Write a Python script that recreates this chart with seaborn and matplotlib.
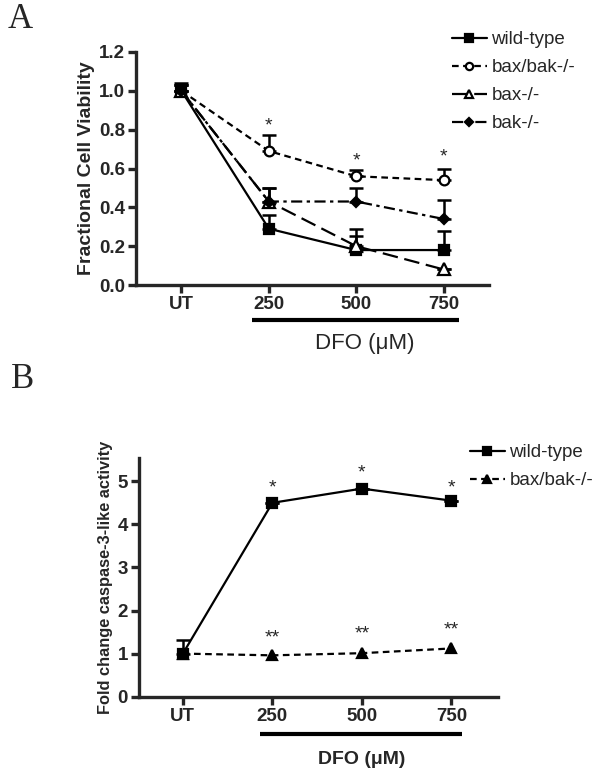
import numpy as np
import pandas as pd
import matplotlib
matplotlib.use("Agg")
import matplotlib.pyplot as plt
import matplotlib.transforms as mtransforms
import seaborn as sns

# ---------------- data ----------------
doses = ["UT", "250", "500", "750"]

# Panel A: fractional cell viability
wt_a = [1.00, 0.29, 0.18, 0.18]
wt_a_err = [0.04, 0.07, 0.07, 0.10]
baxbak_a = [1.00, 0.69, 0.56, 0.54]
baxbak_a_err = [0.03, 0.08, 0.03, 0.06]
bax_a = [1.00, 0.43, 0.20, 0.08]
bax_a_err = [0.03, 0.07, 0.09, 0.00]
bak_a = [1.00, 0.43, 0.43, 0.34]
bak_a_err = [0.03, 0.07, 0.07, 0.10]
stars_a = ["*", "*", "*"]            # at 250, 500, 750
stars_a_y = [0.82, 0.64, 0.66]

# Panel B: fold change caspase-3-like activity
wt_b = [1.00, 4.50, 4.83, 4.55]
wt_b_err = [0.31, 0.0, 0.0, 0.0]
baxbak_b = [1.00, 0.96, 1.01, 1.12]
stars_b_wt = ["*", "*", "*"]
stars_b_wt_y = [4.85, 5.2, 4.85]
stars_b_ko = ["**", "**", "**"]
stars_b_ko_y = [1.37, 1.45, 1.56]

# ---------------- style ----------------
sns.set_style("ticks")
plt.rcParams["font.family"] = ["Liberation Sans", "DejaVu Sans"]
plt.rcParams["axes.linewidth"] = 2.4
plt.rcParams["xtick.major.width"] = 2.4
plt.rcParams["ytick.major.width"] = 2.4
plt.rcParams["xtick.major.size"] = 6
plt.rcParams["ytick.major.size"] = 6

fig = plt.figure(figsize=(6.04, 7.78), dpi=100)
W, H = 604, 778


def axes_px(left, top, right, bottom):
    return fig.add_axes([left / W, 1 - bottom / H, (right - left) / W, (bottom - top) / H])


xpos = np.arange(len(doses))


def draw_series(ax, y, err, label, marker, ls, mfc, ms, lw=1.6):
    df = pd.DataFrame({"x": xpos, "y": y})
    if err is not None:
        ax.errorbar(xpos, y, yerr=[np.zeros(len(y)), err], fmt="none", ecolor="black",
                    elinewidth=1.8, capsize=5, capthick=1.8, zorder=2)
    sns.lineplot(data=df, x="x", y="y", ax=ax, color="black", linestyle=ls, linewidth=lw,
                 marker=marker, markersize=ms, markerfacecolor=mfc, markeredgecolor="black",
                 markeredgewidth=1.6, label=label, zorder=3)


def finish_axes(ax, xlim, ylim, yticks, yticklabels, ylabel, ylabel_size):
    ax.set_xlim(*xlim)
    ax.set_ylim(*ylim)
    ax.set_xticks(xpos)
    ax.set_xticklabels(doses, fontsize=13.5, fontweight="bold")
    ax.set_yticks(yticks)
    ax.set_yticklabels(yticklabels, fontsize=13.5, fontweight="bold")
    ax.set_xlabel("")
    ax.set_ylabel(ylabel, fontsize=ylabel_size, fontweight="bold", labelpad=3)
    sns.despine(ax=ax)
    ax.tick_params(axis="both", direction="out", pad=2)
    leg = ax.get_legend()
    if leg is not None:
        leg.remove()


# ---------------- Panel A ----------------
axA = axes_px(136, 52, 489, 285)
draw_series(axA, wt_a, wt_a_err, "wild-type", "s", "-", "black", 7)
draw_series(axA, baxbak_a, baxbak_a_err, "bax/bak-/-", "o", (0, (3, 2)), "white", 7)
draw_series(axA, bax_a, bax_a_err, "bax-/-", "^", (0, (7, 3)), "white", 8)
draw_series(axA, bak_a, bak_a_err, "bak-/-", "D", (0, (5, 2, 1.5, 2)), "black", 5)
finish_axes(axA, (-0.52, 3.52), (0, 1.2), np.arange(0, 1.21, 0.2),
            [f"{v:.1f}" for v in np.arange(0, 1.21, 0.2)], "Fractional Cell Viability", 14)
for xi, s, yy in zip(xpos[1:], stars_a, stars_a_y):
    axA.text(xi, yy, s, ha="center", va="center", fontsize=14)

handles, labels = axA.get_legend_handles_labels()
fig.legend(handles, labels, loc="upper left", bbox_to_anchor=(452 / W, 1 - 31 / H),
           frameon=False, fontsize=13.5, handlelength=1.85, handletextpad=0.25,
           labelspacing=0.58, borderaxespad=0, borderpad=0, markerscale=0.75)

tA = mtransforms.blended_transform_factory(axA.transData, fig.transFigure)
axA.plot([0.81, 3.18], [1 - 320.5 / H] * 2, color="black", lw=3, transform=tA, clip_on=False,
         solid_capstyle="butt")
fig.text(365 / W, 1 - 343 / H, "DFO (\u03bcM)", ha="center", va="center", fontsize=16)

# ---------------- Panel B ----------------
axB = axes_px(139, 458, 498, 696.7)
draw_series(axB, wt_b, wt_b_err, "wild-type", "s", "-", "black", 7.5)
draw_series(axB, baxbak_b, None, "bax/bak-/-", "^", (0, (3, 2)), "black", 7.5)
finish_axes(axB, (-0.49, 3.52), (0, 5.54), np.arange(0, 6), [str(i) for i in range(6)],
            "Fold change caspase-3-like activity", 11.8)
for xi, s, yy in zip(xpos[1:], stars_b_wt, stars_b_wt_y):
    axB.text(xi, yy, s, ha="center", va="center", fontsize=14)
for xi, s, yy in zip(xpos[1:], stars_b_ko, stars_b_ko_y):
    axB.text(xi, yy, s, ha="center", va="center", fontsize=14)

handlesB, labelsB = axB.get_legend_handles_labels()
fig.legend(handlesB, labelsB, loc="upper left", bbox_to_anchor=(470 / W, 1 - 444 / H),
           frameon=False, fontsize=13.5, handlelength=1.85, handletextpad=0.25,
           labelspacing=0.58, borderaxespad=0, borderpad=0, markerscale=0.75)

tB = mtransforms.blended_transform_factory(axB.transData, fig.transFigure)
axB.plot([0.86, 3.12], [1 - 734 / H] * 2, color="black", lw=3, transform=tB, clip_on=False,
         solid_capstyle="butt")
fig.text(362 / W, 1 - 760 / H, "DFO (\u03bcM)", ha="center", va="center", fontsize=14,
         fontweight="bold")

# ---------------- Panel letters ----------------
fig.text(8 / W, 1 - 20 / H, "A", ha="left", va="center", fontsize=25,
         family=["Liberation Serif", "DejaVu Serif"])
fig.text(11 / W, 1 - 380 / H, "B", ha="left", va="center", fontsize=25,
         family=["Liberation Serif", "DejaVu Serif"])

fig.savefig("out.png", dpi=100)
